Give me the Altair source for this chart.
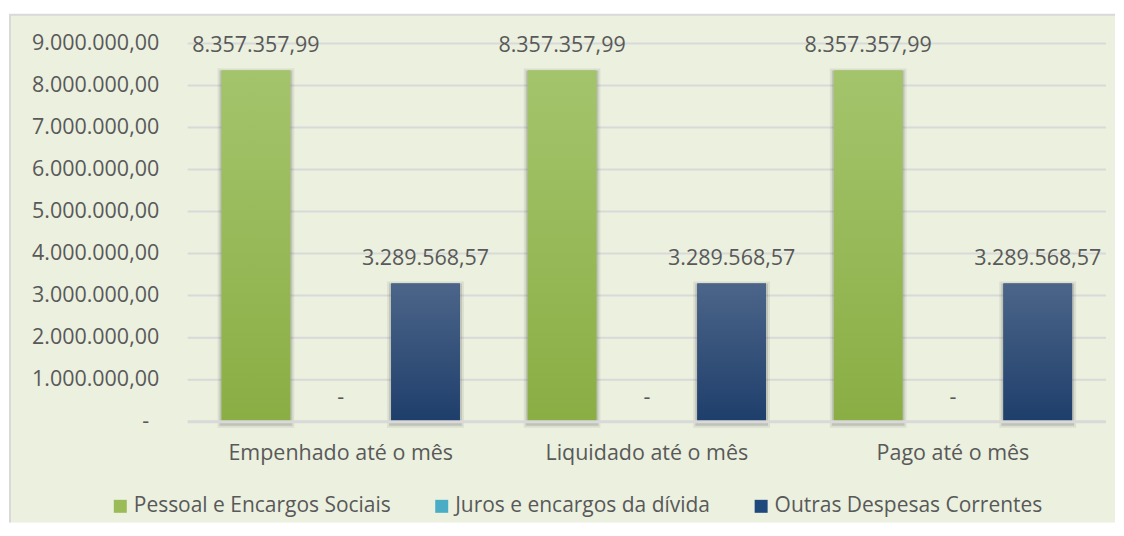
import altair as alt
import pandas as pd

categories = ["Empenhado até o mês", "Liquidado até o mês", "Pago até o mês"]
series = ["Pessoal e Encargos Sociais", "Juros e encargos da dívida", "Outras Despesas Correntes"]
pessoal = [8357357.99, 8357357.99, 8357357.99]
juros = [0.0, 0.0, 0.0]
outras = [3289568.57, 3289568.57, 3289568.57]
y_ticks = [0, 1000000, 2000000, 3000000, 4000000, 5000000, 6000000, 7000000, 8000000, 9000000]

solid_colors = ["#9BBB59", "#4BACC6", "#1F497D"]
grad_top = ["#A4C46C", "#72C5DC", "#4C6589"]
grad_bot = ["#8AAE44", "#2F9FBF", "#1E3E6B"]

FONT = "Open Sans"
FS = 21.5
TXT = "#595959"
BG = "#EBF0DF"
GRID = "#D9D9D9"


def br(v):
    if v == 0:
        return "-"
    s = f"{v:,.2f}"
    return s.replace(",", "#").replace(".", ",").replace("#", ".")


rows = []
for name, vals in zip(series, [pessoal, juros, outras]):
    for c, v in zip(categories, vals):
        rows.append({"cat": c, "serie": name, "valor": v, "rotulo": br(v)})
df = pd.DataFrame(rows)

W, H = 920, 379

x_enc = alt.X("cat:N", sort=categories,
              scale=alt.Scale(paddingInner=0.169, paddingOuter=0.0845),
              axis=alt.Axis(title=None, labelFont=FONT, labelFontSize=FS, labelColor=TXT,
                            ticks=False, domain=False, labelPadding=21, labelAngle=0,
                            labelLimit=0, zindex=1))
xo_enc = alt.XOffset("serie:N", sort=series,
                     scale=alt.Scale(paddingInner=0.19, paddingOuter=0.095))
y_scale = alt.Scale(domain=[0, 9000000], nice=False)
y_enc = alt.Y("valor:Q", scale=y_scale,
              axis=alt.Axis(title=None, values=y_ticks[1:], grid=False, ticks=False, domain=False,
                            labelFont=FONT, labelFontSize=FS, labelColor=TXT, labelPadding=29,
                            zindex=1,
                            labelExpr="replace(replace(replace(format(datum.value, ',.2f'), regexp('[.]', 'g'), '#'), regexp(',', 'g'), '.'), '#', ',')"))

one = pd.DataFrame({"k": [0]})
bg = alt.Chart(one).mark_rect(fill=BG).encode(
    x=alt.value(-179), x2=alt.value(929), y=alt.value(-28.7), y2=alt.value(480))
border_top = alt.Chart(one).mark_rule(color=GRID, strokeWidth=2).encode(
    x=alt.value(-179), x2=alt.value(929), y=alt.value(-28.7))
border_left = alt.Chart(one).mark_rule(color=GRID, strokeWidth=2).encode(
    x=alt.value(-178), y=alt.value(-28.7), y2=alt.value(480))

grid_df = pd.DataFrame({"valor": y_ticks[1:]})
grid = alt.Chart(grid_df).mark_rule(color=GRID, strokeWidth=2).encode(
    y=alt.Y("valor:Q", scale=y_scale), x=alt.value(0), x2=alt.value(W))
base_df = pd.DataFrame({"valor": y_ticks[:1], "t": ["-"]})
baseline = alt.Chart(base_df).mark_rule(color=GRID, strokeWidth=3).encode(
    y=alt.Y("valor:Q", scale=y_scale), x=alt.value(0), x2=alt.value(W))
zero_label = alt.Chart(base_df).mark_text(font=FONT, fontSize=FS, color=TXT, align="center",
                                          baseline="middle").encode(
    y=alt.Y("valor:Q", scale=y_scale), x=alt.value(-42), text="t:N")

base = alt.Chart(df)
pos = base.transform_filter(alt.datum.valor > 0)

shadow1 = pos.mark_bar(fillOpacity=0.0, stroke="#505050", strokeOpacity=0.10, yOffset=2,
                       strokeWidth=8).encode(x=x_enc, xOffset=xo_enc, y=y_enc)
shadow2 = pos.mark_bar(fillOpacity=0.0, stroke="#505050", strokeOpacity=0.20, yOffset=2,
                       strokeWidth=4).encode(x=x_enc, xOffset=xo_enc, y=y_enc)

legend_bars = base.mark_bar().encode(
    x=x_enc, xOffset=xo_enc, y=y_enc,
    color=alt.Color("serie:N", sort=series,
                    scale=alt.Scale(domain=series, range=solid_colors),
                    legend=alt.Legend(title=None, orient="none", direction="horizontal",
                                      legendX=-78, legendY=453, symbolType="square",
                                      symbolSize=169, symbolStrokeWidth=0,
                                      labelFont=FONT, labelFontSize=21, labelColor=TXT,
                                      labelLimit=0, labelOffset=3, columnPadding=40,
                                      zindex=1)))

grad_layers = []
for i, name in enumerate(series):
    g = alt.Gradient(gradient="linear",
                     stops=[alt.GradientStop(color=grad_top[i], offset=0),
                            alt.GradientStop(color=grad_bot[i], offset=1)],
                     x1=0, x2=0, y1=0, y2=1)
    grad_layers.append(
        base.transform_filter(alt.datum.serie == name).mark_bar(fill=g).encode(
            x=x_enc, xOffset=xo_enc, y=y_enc))

labels = base.mark_text(font=FONT, fontSize=FS, color=TXT, baseline="alphabetic", dy=-18).encode(
    x=x_enc, xOffset=xo_enc, y=y_enc, text="rotulo:N")

chart = alt.layer(bg, border_top, border_left, grid, shadow1, shadow2, legend_bars, *grad_layers,
                  baseline, zero_label, labels).properties(
    width=W, height=H,
    padding={"left": 0, "top": 5, "right": 0, "bottom": 0},
    background="white",
).configure_view(strokeWidth=0)

chart.save("out.html", embed_options={"renderer": "svg", "actions": False})
